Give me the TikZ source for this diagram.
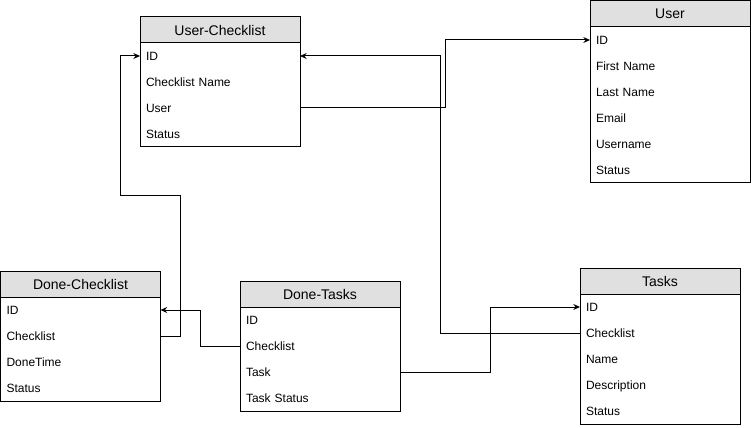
\documentclass[tikz,border=0pt]{standalone}
\usepackage{fontspec}
\setmainfont{Liberation Sans}
\usepackage{xcolor}
\usepackage{tikz}
\usetikzlibrary{arrows.meta,positioning,fit}
\definecolor{erHead}{HTML}{E0E0E0}
\definecolor{erLine}{HTML}{000000}

\begin{document}
\begin{tikzpicture}[
  x=0.75pt,y=-0.75pt,
  head/.style={draw=erLine,fill=erHead,line width=0.75pt,inner sep=0pt,outer sep=0pt,
    minimum width=120pt,minimum height=19.5pt,font=\fontsize{10.5}{12}\selectfont},
  field/.style={inner sep=0pt,outer sep=0pt,inner xsep=4.5pt,text width=111pt,align=left,
    minimum height=19.5pt,text height=8pt,text depth=1pt,font=\fontsize{9}{11}\selectfont},
  body/.style={draw=erLine,line width=0.75pt,inner sep=0pt,outer sep=0pt},
  arrow/.style={-{Stealth[length=5pt,width=4.5pt]},line width=0.75pt,draw=erLine}
]
\useasboundingbox (0,0) rectangle (751,428);
% User-Checklist
\node[head,anchor=north west] (uc) at (140,17) {User-Checklist};
\node[field,below=0pt of uc] (uc-id) {ID};
\node[field,below=0pt of uc-id] (uc-name) {Checklist Name};
\node[field,below=0pt of uc-name] (uc-user) {User};
\node[field,below=0pt of uc-user] (uc-status) {Status};
\node[body,fit=(uc-id)(uc-status)] (uc-box) {};
% User
\node[head,anchor=north west] (u) at (590,1) {User};
\node[field,below=0pt of u] (u-id) {ID};
\node[field,below=0pt of u-id] (u-first) {First Name};
\node[field,below=0pt of u-first] (u-last) {Last Name};
\node[field,below=0pt of u-last] (u-email) {Email};
\node[field,below=0pt of u-email] (u-username) {Username};
\node[field,below=0pt of u-username] (u-status) {Status};
\node[body,fit=(u-id)(u-status)] (u-box) {};
% Done-Checklist
\node[head,anchor=north west] (dc) at (0.5,271) {Done-Checklist};
\node[field,below=0pt of dc] (dc-id) {ID};
\node[field,below=0pt of dc-id] (dc-checklist) {Checklist};
\node[field,below=0pt of dc-checklist] (dc-time) {DoneTime};
\node[field,below=0pt of dc-time] (dc-status) {Status};
\node[body,fit=(dc-id)(dc-status)] (dc-box) {};
% Done-Tasks
\node[head,anchor=north west] (dt) at (240,281) {Done-Tasks};
\node[field,below=0pt of dt] (dt-id) {ID};
\node[field,below=0pt of dt-id] (dt-checklist) {Checklist};
\node[field,below=0pt of dt-checklist] (dt-task) {Task};
\node[field,below=0pt of dt-task] (dt-status) {Task Status};
\node[body,fit=(dt-id)(dt-status)] (dt-box) {};
% Tasks
\node[head,anchor=north west] (t) at (580,268) {Tasks};
\node[field,below=0pt of t] (t-id) {ID};
\node[field,below=0pt of t-id] (t-checklist) {Checklist};
\node[field,below=0pt of t-checklist] (t-name) {Name};
\node[field,below=0pt of t-name] (t-desc) {Description};
\node[field,below=0pt of t-desc] (t-status) {Status};
\node[body,fit=(t-id)(t-status)] (t-box) {};
% links
\draw[arrow] (uc-user.east) -- ++(145,0) |- (u-id.west);
\draw[arrow] (t-checklist.west) -- ++(-140,0) |- (uc-id.east);
\draw[arrow] (dc-checklist.east) -- ++(20,0) -- ++(0,-140) -- ++(-60,0) |- (uc-id.west);
\draw[arrow] (dt-checklist.west) -- ++(-40,0) |- (dc-id.east);
\draw[arrow] (dt-task.east) -- ++(90,0) |- (t-id.west);
\end{tikzpicture}
\end{document}
